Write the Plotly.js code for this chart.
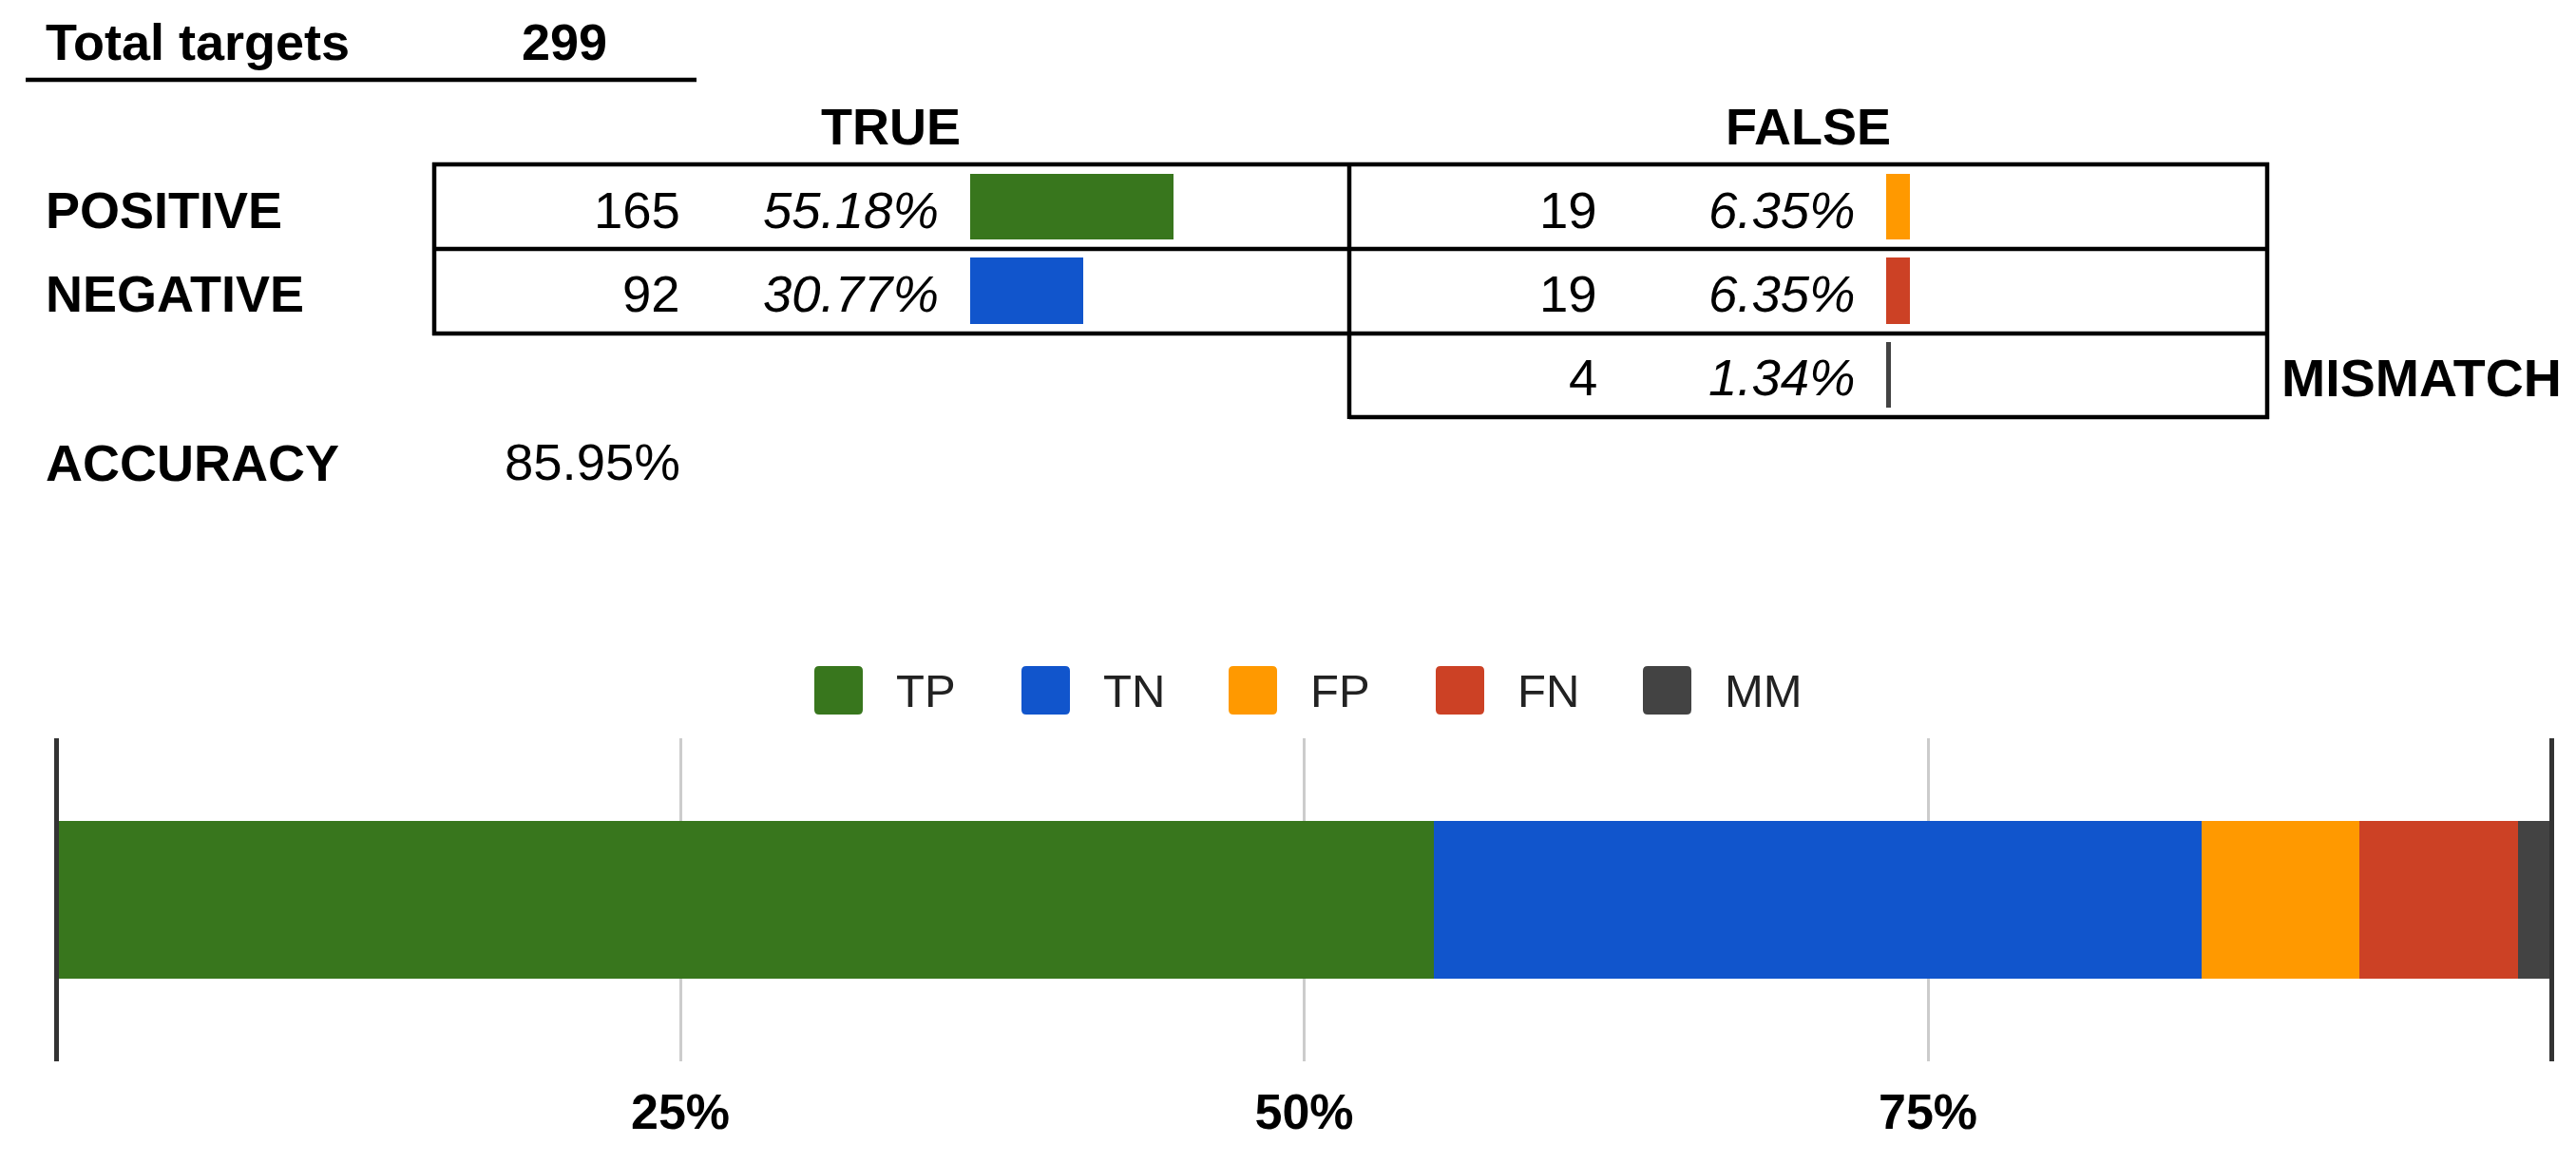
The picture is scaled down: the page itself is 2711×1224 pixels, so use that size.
<!DOCTYPE html>
<html>
<head>
<meta charset="utf-8">
<script src="https://cdn.plot.ly/plotly-3.0.1.min.js"></script>
<style>
  html, body { margin: 0; padding: 0; background: #fff; }
  #chart { width: 2711px; height: 1224px; }
</style>
</head>
<body>
<div id="chart"></div>
<script>
// summary values
var totalTargets = 299;
var rowLabels = ['POSITIVE', 'NEGATIVE'];
var trueCounts = [165, 92];
var truePct = [55.18, 30.77];
var falseCounts = [19, 19, 4];
var falsePct = [6.35, 6.35, 1.34];
var accuracy = '85.95%';

// stacked bar
var categories = ['TP', 'TN', 'FP', 'FN', 'MM'];
var shares = [55.18, 30.77, 6.35, 6.35, 1.34];
var colors = ['#38761d', '#1155cc', '#ff9900', '#cc4125', '#434343'];
var tickVals = [25, 50, 75];
var tickText = ['25%', '50%', '75%'];

var W = 2711, H = 1224;
var FONT = 'Liberation Sans, Arial, sans-serif';
function px(x) { return x / W; }
function py(y) { return 1 - y / H; }

var traces = [];

// little bars inside the table
traces.push({
  type: 'bar', orientation: 'h',
  x: truePct, y: [0, 1], width: 0.78,
  marker: {color: [colors[0], colors[1]]},
  xaxis: 'x2', yaxis: 'y2', showlegend: false, hoverinfo: 'skip'
});
traces.push({
  type: 'bar', orientation: 'h',
  x: falsePct, y: [0, 1, 2], width: 0.78,
  marker: {color: [colors[2], colors[3], colors[4]]},
  xaxis: 'x3', yaxis: 'y2', showlegend: false, hoverinfo: 'skip'
});

// main stacked bar
categories.forEach(function(c, i) {
  traces.push({
    type: 'bar', orientation: 'h', name: c,
    x: [shares[i]], y: [0], width: 0.49,
    marker: {color: colors[i]},
    xaxis: 'x', yaxis: 'y', showlegend: false, hoverinfo: 'skip'
  });
});

var rowCenters = [221, 309, 398];
var annotations = [];
function txt(text, x, y, anchor, size, color) {
  annotations.push({
    text: text, x: px(x), y: py(y), xref: 'paper', yref: 'paper',
    xanchor: anchor, yanchor: 'middle', showarrow: false,
    font: {family: FONT, size: size || 54.5, color: color || '#000'}
  });
}
var B = 54;

txt('<b>Total targets</b>', 46, 44, 'left', B);
txt('<b>' + totalTargets + '</b>', 594, 44, 'center', B);
txt('<b>TRUE</b>', 937, 133, 'center', B);
txt('<b>FALSE</b>', 1903, 133, 'center', B);
rowLabels.forEach(function(l, i) { txt('<b>' + l + '</b>', 46, rowCenters[i], 'left', B); });
txt('<b>MISMATCH</b>', 2399, rowCenters[2], 'left', 55.5);
txt('<b>ACCURACY</b>', 46, 487, 'left', B);
txt(accuracy, 718, 487, 'right');

trueCounts.forEach(function(v, i) {
  txt(String(v), 718, rowCenters[i], 'right');
  txt('<i>' + truePct[i].toFixed(2) + '%</i>', 990, rowCenters[i], 'right');
});
falseCounts.forEach(function(v, i) {
  txt(String(v), 1683, rowCenters[i], 'right');
  txt('<i>' + falsePct[i].toFixed(2) + '%</i>', 1955, rowCenters[i], 'right');
});

// table lines
var shapes = [];
function line(x0, y0, x1, y1) {
  shapes.push({type: 'line', xref: 'paper', yref: 'paper',
    x0: px(x0), y0: py(y0), x1: px(x1), y1: py(y1),
    line: {color: '#000', width: 4.5}});
}
line(27, 84, 733, 84);
line(455, 173, 2388, 173);
line(457, 262, 2386, 262);
line(455, 351, 2388, 351);
line(1420, 439, 2388, 439);
line(457, 171, 457, 353);
line(1420, 171, 1420, 441);
line(2386, 171, 2386, 441);

// main axis placement
var xDom = [px(59.5), px(2685.5)];
var yDom = [py(1117), py(777)];

// dark edge lines at 0% and 100% (paper refs so they are not clipped)
[0, 100].forEach(function(v) {
  var xp = xDom[0] + v / 100 * (xDom[1] - xDom[0]);
  shapes.push({type: 'line', xref: 'paper', yref: 'paper', layer: 'above',
    x0: xp, x1: xp, y0: yDom[0], y1: yDom[1], line: {color: '#333333', width: 5}});
});

// legend built from the categories
var legX = 857, legStep = 218, r = 5;
categories.forEach(function(c, i) {
  var x0 = legX + i * legStep, x1 = x0 + 51, y0 = 701, y1 = 752;
  var path = 'M' + px(x0 + r) + ',' + py(y0) +
    ' L' + px(x1 - r) + ',' + py(y0) + ' Q' + px(x1) + ',' + py(y0) + ' ' + px(x1) + ',' + py(y0 + r) +
    ' L' + px(x1) + ',' + py(y1 - r) + ' Q' + px(x1) + ',' + py(y1) + ' ' + px(x1 - r) + ',' + py(y1) +
    ' L' + px(x0 + r) + ',' + py(y1) + ' Q' + px(x0) + ',' + py(y1) + ' ' + px(x0) + ',' + py(y1 - r) +
    ' L' + px(x0) + ',' + py(y0 + r) + ' Q' + px(x0) + ',' + py(y0) + ' ' + px(x0 + r) + ',' + py(y0) + ' Z';
  shapes.push({type: 'path', xref: 'paper', yref: 'paper', path: path,
    fillcolor: colors[i], line: {width: 0}});
  txt(c, x0 + 84, 727, 'left', 49, '#222222');
});

var layout = {
  width: W, height: H,
  margin: {l: 0, r: 0, t: 0, b: 0},
  paper_bgcolor: '#ffffff', plot_bgcolor: 'rgba(0,0,0,0)',
  barmode: 'stack',
  showlegend: false,
  font: {family: FONT},
  xaxis: {
    domain: xDom, range: [0, 100],
    tickvals: tickVals, ticktext: tickText,
    showgrid: true, gridcolor: '#cccccc', gridwidth: 3,
    zeroline: false, showline: false, ticks: '',
    ticklabelstandoff: 18,
    tickfont: {family: FONT, size: 52, color: '#000', weight: 'bold'},
    fixedrange: true
  },
  yaxis: {
    domain: yDom, range: [-0.5, 0.5],
    visible: false, fixedrange: true
  },
  xaxis2: {
    domain: [px(1021), px(1021 + 387)], range: [0, 100],
    anchor: 'y2', visible: false, fixedrange: true
  },
  xaxis3: {
    domain: [px(1985), px(1985 + 387)], range: [0, 100],
    anchor: 'y2', visible: false, fixedrange: true
  },
  yaxis2: {
    domain: [py(439), py(173)], range: [2.5, -0.5],
    anchor: 'x2', visible: false, fixedrange: true
  },
  annotations: annotations,
  shapes: shapes
};

Plotly.newPlot('chart', traces, layout, {staticPlot: true, displayModeBar: false});
</script>
</body>
</html>
